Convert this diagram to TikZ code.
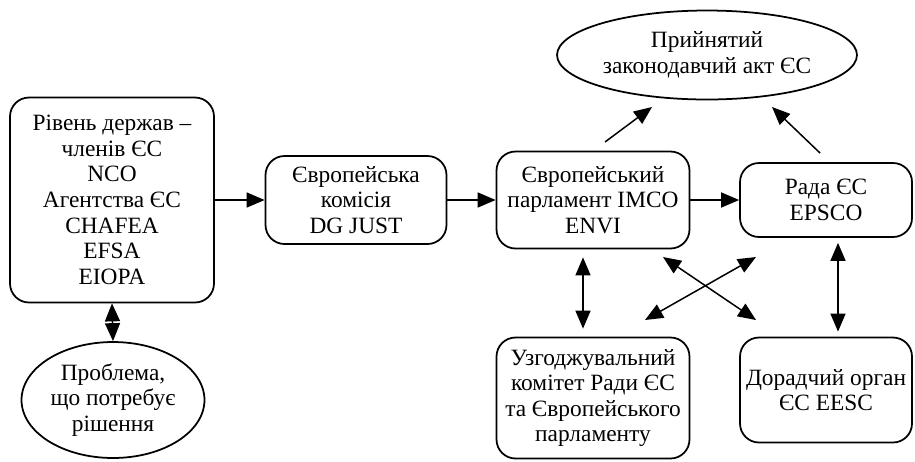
\documentclass[tikz,border=0pt]{standalone}
\usepackage{fontspec}
\setmainfont{Liberation Serif}
\usetikzlibrary{shapes.geometric,arrows.meta}

\begin{document}
\begin{tikzpicture}[
	x=0.02cm,
	y=-0.02cm,
	every node/.style={align=center,inner sep=0pt,font=\fontsize{13.3}{14.6}\selectfont},
	box/.style={draw,line width=1pt,rounded corners=0.38cm},
	oval/.style={draw,line width=1pt,ellipse},
	arr/.style={line width=0.85pt,-{Triangle[length=0.36cm,width=0.3cm]}},
	dbl/.style={line width=0.85pt,{Triangle[length=0.36cm,width=0.3cm]}-{Triangle[length=0.36cm,width=0.3cm]}}
]
\useasboundingbox (0,0) rectangle (915,461);
%\draw[step=50,black!10] (0,0) grid (915,461);

% nodes
\node[box,minimum width=4.08cm,minimum height=4.1cm] (lvl) at (112,200) {Рівень держав –\\членів ЄС\\NCO\\Агентства ЄС\\CHAFEA\\EFSA\\EIOPA};
\node[oval,minimum width=3.66cm,minimum height=2.32cm] (prob) at (113,400) {Проблема,\\що потребує\\рішення};
\node[box,minimum width=3.62cm,minimum height=1.76cm] (ec) at (356,200) {Європейська\\комісія\\DG JUST};
\node[box,minimum width=3.86cm,minimum height=1.94cm] (ep) at (593,200) {Європейський\\парламент IMCO\\ENVI};
\node[box,minimum width=3.44cm,minimum height=1.48cm] (rada) at (826,200) {Рада ЄС\\EPSCO};
\node[oval,minimum width=6cm,minimum height=1.78cm] (act) at (707,55) {Прийнятий\\законодавчий акт ЄС};
\node[box,minimum width=3.86cm,minimum height=2.42cm] (uzg) at (593,398) {Узгоджувальний\\комітет Ради ЄС\\та Європейського\\парламенту};
\node[box,minimum width=3.44cm,minimum height=2.1cm] (dor) at (826,390) {Дорадчий орган\\ЄС EESC};

% free ends
\coordinate (ep-up) at (605,142);
\coordinate (act-l) at (652,107);
\coordinate (rada-up) at (820,153);
\coordinate (act-r) at (772,107);
\coordinate (x1a) at (663,257);
\coordinate (x1b) at (756,320);
\coordinate (x2a) at (756,257);
\coordinate (x2b) at (645,320);

% connectors
\draw[arr] (lvl.east) -- (ec.west);
\draw[arr] (ec.east) -- (ep.west);
\draw[arr] (ep.east) -- (rada.west);
\draw[dbl] (lvl.south) -- (prob.north);
\draw[arr] (ep-up) -- (act-l);
\draw[arr] (rada-up) -- (act-r);
\draw[dbl,shorten <=0.16cm,shorten >=0.16cm] ([xshift=-0.2cm]ep.south) -- ([xshift=-0.2cm]uzg.north);
\draw[dbl,shorten <=0.1cm,shorten >=0.1cm] ([xshift=0.24cm]rada.south) -- ([xshift=0.24cm]dor.north);
\draw[dbl] (x1a) -- (x1b);
\draw[dbl] (x2a) -- (x2b);
\end{tikzpicture}
\end{document}
